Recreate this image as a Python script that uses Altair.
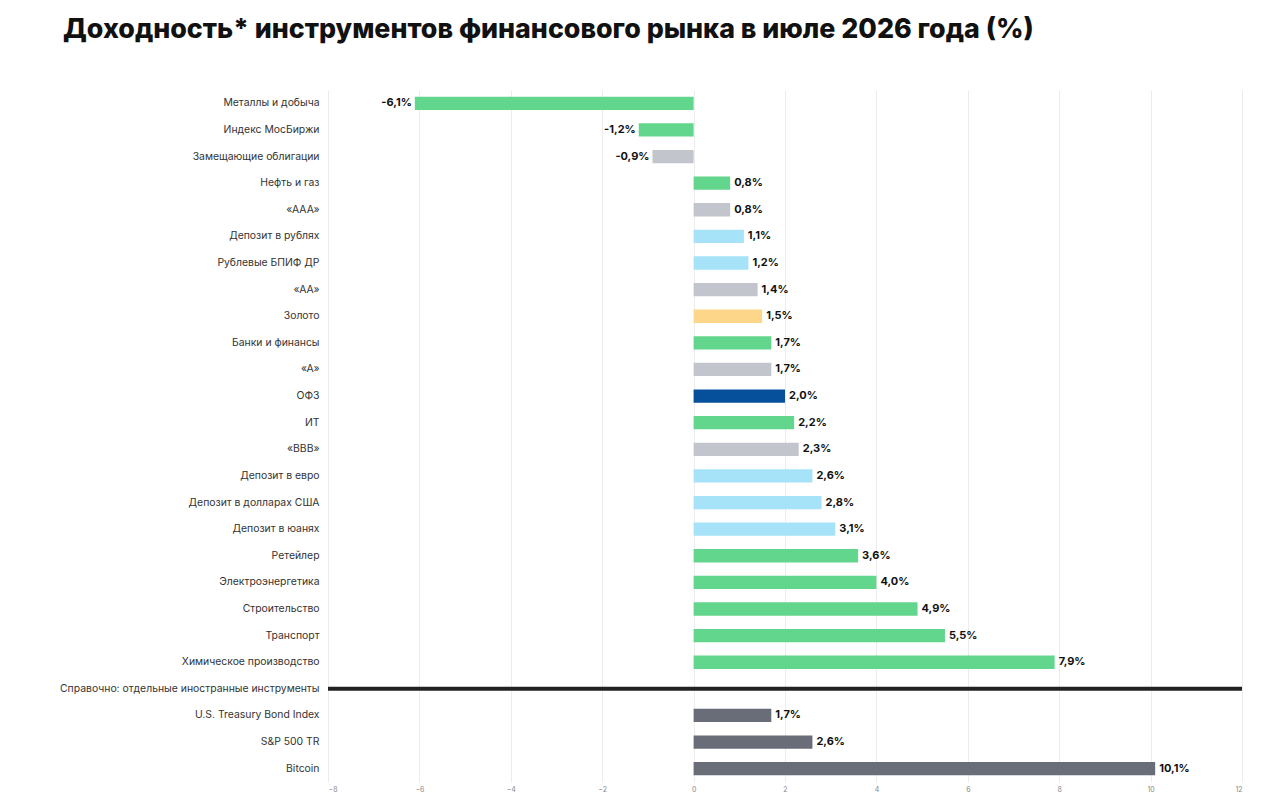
import altair as alt
import pandas as pd

SEPARATOR = "Справочно: отдельные иностранные инструменты"

instruments = [
    "Металлы и добыча",
    "Индекс МосБиржи",
    "Замещающие облигации",
    "Нефть и газ",
    "«ААА»",
    "Депозит в рублях",
    "Рублевые БПИФ ДР",
    "«АА»",
    "Золото",
    "Банки и финансы",
    "«А»",
    "ОФЗ",
    "ИТ",
    "«BBB»",
    "Депозит в евро",
    "Депозит в долларах США",
    "Депозит в юанях",
    "Ретейлер",
    "Электроэнергетика",
    "Строительство",
    "Транспорт",
    "Химическое производство",
    "U.S. Treasury Bond Index",
    "S&P 500 TR",
    "Bitcoin",
]
returns = [
    -6.1, -1.2, -0.9, 0.8, 0.8, 1.1, 1.2, 1.4, 1.5, 1.7, 1.7, 2.0, 2.2,
    2.3, 2.6, 2.8, 3.1, 3.6, 4.0, 4.9, 5.5, 7.9, 1.7, 2.6, 10.1,
]
groups = [
    "акции", "акции", "облигации", "акции", "облигации", "депозиты",
    "депозиты", "облигации", "золото", "акции", "облигации", "ОФЗ", "акции",
    "облигации", "депозиты", "депозиты", "депозиты", "акции", "акции",
    "акции", "акции", "акции", "иностранные", "иностранные", "иностранные",
]

group_names = ["акции", "облигации", "депозиты", "золото", "ОФЗ", "иностранные"]
group_colors = ["#62d68c", "#c3c5cc", "#a6e3f9", "#fdd68a", "#064f9b", "#686d78"]

row_order = instruments[:22] + [SEPARATOR] + instruments[22:]

df = pd.DataFrame({"name": instruments, "value": returns, "group": groups})
df["label"] = df["value"].map(lambda v: f"{v:.1f}".replace(".", ",") + "%")

FONT = "Inter"

y_enc = alt.Y(
    "name:N",
    sort=row_order,
    scale=alt.Scale(domain=row_order, paddingInner=0.5, paddingOuter=0.25),
    axis=alt.Axis(
        title=None,
        ticks=False,
        domain=False,
        labelPadding=9,
        labelFontSize=10.4,
        labelColor="#333333",
        labelFont=FONT,
        labelLimit=400,
    ),
)
x_enc = alt.X(
    "value:Q",
    scale=alt.Scale(domain=[-8, 12], nice=False),
    axis=alt.Axis(
        title=None,
        values=list(range(-8, 13, 2)),
        ticks=False,
        domain=False,
        labelFontSize=7,
        labelColor="#888888",
        labelFont=FONT,
        labelPadding=3,
        gridColor="#ececec",
        gridWidth=1,
    ),
)

base = alt.Chart(df)

bars = base.mark_bar().encode(
    x=x_enc,
    x2=alt.datum(0),
    y=y_enc,
    color=alt.Color(
        "group:N",
        scale=alt.Scale(domain=group_names, range=group_colors),
        legend=None,
    ),
)

pos_labels = (
    base.transform_filter("datum.value >= 0")
    .mark_text(align="left", dx=4, fontSize=11, fontWeight="bold", font=FONT, color="#111111")
    .encode(x="value:Q", y=alt.Y("name:N", sort=row_order), text="label:N")
)
neg_labels = (
    base.transform_filter("datum.value < 0")
    .mark_text(align="right", dx=-3, fontSize=11, fontWeight="bold", font=FONT, color="#111111")
    .encode(x="value:Q", y=alt.Y("name:N", sort=row_order), text="label:N")
)

sep = (
    alt.Chart(pd.DataFrame({"name": [SEPARATOR], "x0": [-8], "x1": [12]}))
    .mark_rule(color="#222222", strokeWidth=4)
    .encode(x="x0:Q", x2="x1:Q", y=alt.Y("name:N", sort=row_order))
)

chart = (
    alt.layer(bars, sep, pos_labels, neg_labels)
    .properties(
        width=914,
        height=692,
        autosize=alt.AutoSizeParams(type="none"),
        padding={"left": 320, "top": 82, "right": 30, "bottom": 19},
        title=alt.TitleParams(
            "Доходность* инструментов финансового рынка в июле 2026 года (%)",
            anchor="start",
            frame="group",
            dx=-265,
            offset=46,
            fontSize=26.8,
            fontWeight=800,
            font=FONT,
            color="#111111",
        ),
    )
    .configure_view(stroke=None)
    .configure_axis(labelFont=FONT)
)

chart.save("out.html", embed_options={"renderer": "svg", "actions": False})
